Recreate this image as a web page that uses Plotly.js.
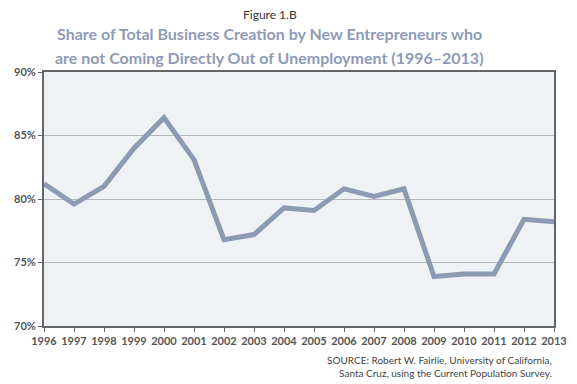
<!DOCTYPE html>
<html><head><meta charset="utf-8">
<script src="https://cdn.plot.ly/plotly-3.0.1.min.js"></script>
<style>html,body{margin:0;padding:0;background:#fff;}#chart{width:577px;height:384px;}</style>
</head><body><div id="chart"></div>
<script>
const years = ["1996","1997","1998","1999","2000","2001","2002","2003","2004","2005","2006","2007","2008","2009","2010","2011","2012","2013"];
const sharePct = [81.2,79.6,81.0,84.0,86.4,83.1,76.8,77.2,79.3,79.1,80.8,80.2,80.8,73.9,74.1,74.1,78.4,78.2];
const yTickVals = [70,75,80,85,90];
const yTickText = ["70%","75%","80%","85%","90%"];
const titleLines = ["Share of Total Business Creation by New Entrepreneurs who",
                    "are not Coming Directly Out of Unemployment (1996–2013)"];

const font = "Lato, 'Open Sans', sans-serif";
const trace = {
  x: years.map(Number), y: sharePct, type: "scatter", mode: "lines",
  line: {color: "#8c9ab4", width: 5, shape: "linear"},
  hoverinfo: "skip"
};
const layout = {
  width: 577, height: 384,
  margin: {l: 44, r: 23, t: 72, b: 58},
  paper_bgcolor: "#ffffff", plot_bgcolor: "#eff2f5",
  showlegend: false,
  xaxis: {
    range: [1996, 2013], tickvals: years.map(Number), ticktext: years,
    showgrid: false, zeroline: false,
    showline: true, linecolor: "#666666", linewidth: 2, mirror: true,
    ticks: "outside", ticklen: 4, tickcolor: "#666666", tickwidth: 1,
    tickfont: {family: font, size: 11, color: "#555555", weight: "bold"}
  },
  yaxis: {
    range: [70, 90], tickvals: yTickVals, ticktext: yTickText,
    showgrid: true, gridcolor: "#b4b7bb", gridwidth: 1, zeroline: false,
    showline: true, linecolor: "#666666", linewidth: 2, mirror: true,
    ticks: "outside", ticklen: 4, tickcolor: "#666666",
    tickfont: {family: font, size: 11, color: "#555555", weight: "bold"}
  },
  annotations: [
    {text: "Figure 1.B", xref: "paper", yref: "paper", x: 0.443, y: 1, xanchor: "center", yanchor: "middle",
     yshift: 58, showarrow: false, font: {family: font, size: 12, color: "#333333"}},
    {text: titleLines[0],
     xref: "paper", yref: "paper", x: 0.443, y: 1, xanchor: "center", yanchor: "middle", yshift: 39,
     showarrow: false, font: {family: font, size: 16, color: "#8e9bb6", weight: "bold"}},
    {text: titleLines[1],
     xref: "paper", yref: "paper", x: 0.443, y: 1, xanchor: "center", yanchor: "middle", yshift: 15,
     showarrow: false, font: {family: font, size: 16, color: "#8e9bb6", weight: "bold"}},
    {text: "SOURCE: Robert W. Fairlie, University of California,<br>Santa Cruz, using the Current Population Survey.",
     xref: "paper", yref: "paper", x: 1, y: 0, xanchor: "right", yanchor: "top", yshift: -26,
     showarrow: false, align: "right", font: {family: font, size: 10, color: "#444444"}}
  ]
};
Plotly.newPlot("chart", [trace], layout, {displayModeBar: false, staticPlot: true});
</script>
</body></html>
